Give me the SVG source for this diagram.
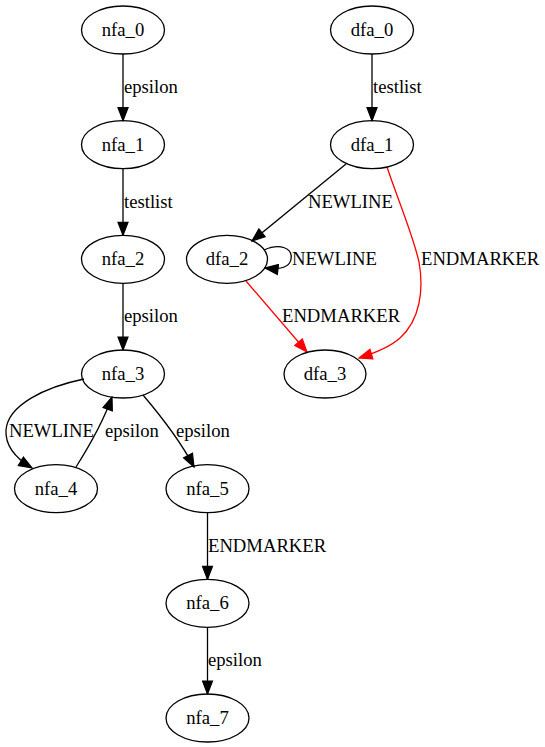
<svg xmlns="http://www.w3.org/2000/svg" width="545" height="747" viewBox="0 0 545 747">
<style>
  .node ellipse { fill: none; stroke: #000; stroke-width: 1.3; }
  text { font-family: "Liberation Serif", "Times New Roman", serif; font-size: 18.67px; fill: #000; }
  .node text { text-anchor: middle; }
  .edge { fill: none; stroke: #000; stroke-width: 1.3; marker-end: url(#ah); }
  .edge.red { stroke: #ff0000; marker-end: url(#ahr); }
</style>
<defs>
  <marker id="ah" viewBox="-1 -1 15 12" refX="13" refY="5" markerWidth="15" markerHeight="12" markerUnits="userSpaceOnUse" orient="auto">
    <path d="M0,0 L13,5 L0,10 Z" fill="#000" stroke="#000" stroke-width="1.2"/>
  </marker>
  <marker id="ahr" viewBox="-1 -1 15 12" refX="13" refY="5" markerWidth="15" markerHeight="12" markerUnits="userSpaceOnUse" orient="auto">
    <path d="M0,0 L13,5 L0,10 Z" fill="#ff0000" stroke="#ff0000" stroke-width="1.2"/>
  </marker>
</defs>
<rect width="545" height="747" fill="#fff"/>
<g id="connectors">
  <path class="edge" d="M123,54 L123,120.7"/>
  <path class="edge" d="M123,168.7 L123,235.3"/>
  <path class="edge" d="M123,283.3 L123,350"/>
  <path class="edge" d="M84,379 C45,387 8,405 6,430 C5,446 17,459 32,468"/>
  <path class="edge" d="M76,467 C88,448 102,425 112,397"/>
  <path class="edge" d="M143,395 C160,415 180,440 194,467"/>
  <path class="edge" d="M207.5,512.7 L207.5,579.3"/>
  <path class="edge" d="M207.5,627.3 L207.5,694"/>
  <path class="edge" d="M372,54 L372,120.7"/>
  <path class="edge" d="M346,164 L252,241"/>
  <path class="edge" d="M264,250 C280,243 293,248 291,259 C290,266 282,270 265,268"/>
  <path class="edge red" d="M246,281 L307,352"/>
  <path class="edge red" d="M387,167 C398,200 413,235 419,262 C424,290 420,320 400,338 C390,347 375,353 359,358"/>
  <text x="124" y="93">epsilon</text>
  <text x="124" y="207.7">testlist</text>
  <text x="124" y="322.3">epsilon</text>
  <text x="9" y="437">NEWLINE</text>
  <text x="105" y="437">epsilon</text>
  <text x="176" y="437">epsilon</text>
  <text x="208" y="551.7">ENDMARKER</text>
  <text x="208" y="666.3">epsilon</text>
  <text x="373" y="93">testlist</text>
  <text x="308" y="208">NEWLINE</text>
  <text x="292" y="265">NEWLINE</text>
  <text x="282" y="322">ENDMARKER</text>
  <text x="421" y="265">ENDMARKER</text>
</g>
<g id="nfa_0" class="node"><ellipse cx="123" cy="30" rx="41.5" ry="24"/><text x="123" y="36">nfa_0</text></g>
<g id="nfa_1" class="node"><ellipse cx="123" cy="144.7" rx="41.5" ry="24"/><text x="123" y="150.7">nfa_1</text></g>
<g id="nfa_2" class="node"><ellipse cx="123" cy="259.3" rx="41.5" ry="24"/><text x="123" y="265.3">nfa_2</text></g>
<g id="nfa_3" class="node"><ellipse cx="123" cy="374" rx="41.5" ry="24"/><text x="123" y="380">nfa_3</text></g>
<g id="nfa_4" class="node"><ellipse cx="56" cy="488.7" rx="41.5" ry="24"/><text x="56" y="494.7">nfa_4</text></g>
<g id="nfa_5" class="node"><ellipse cx="207.5" cy="488.7" rx="41.5" ry="24"/><text x="207.5" y="494.7">nfa_5</text></g>
<g id="nfa_6" class="node"><ellipse cx="207.5" cy="603.3" rx="41.5" ry="24"/><text x="207.5" y="609.3">nfa_6</text></g>
<g id="nfa_7" class="node"><ellipse cx="207.5" cy="718" rx="41.5" ry="24"/><text x="207.5" y="724">nfa_7</text></g>
<g id="dfa_0" class="node"><ellipse cx="372" cy="30" rx="41.5" ry="24"/><text x="372" y="36">dfa_0</text></g>
<g id="dfa_1" class="node"><ellipse cx="372" cy="144.7" rx="41.5" ry="24"/><text x="372" y="150.7">dfa_1</text></g>
<g id="dfa_2" class="node"><ellipse cx="227" cy="259.3" rx="40.5" ry="24"/><text x="227" y="265.3">dfa_2</text></g>
<g id="dfa_3" class="node"><ellipse cx="325" cy="374" rx="41" ry="24"/><text x="325" y="380">dfa_3</text></g>
</svg>
